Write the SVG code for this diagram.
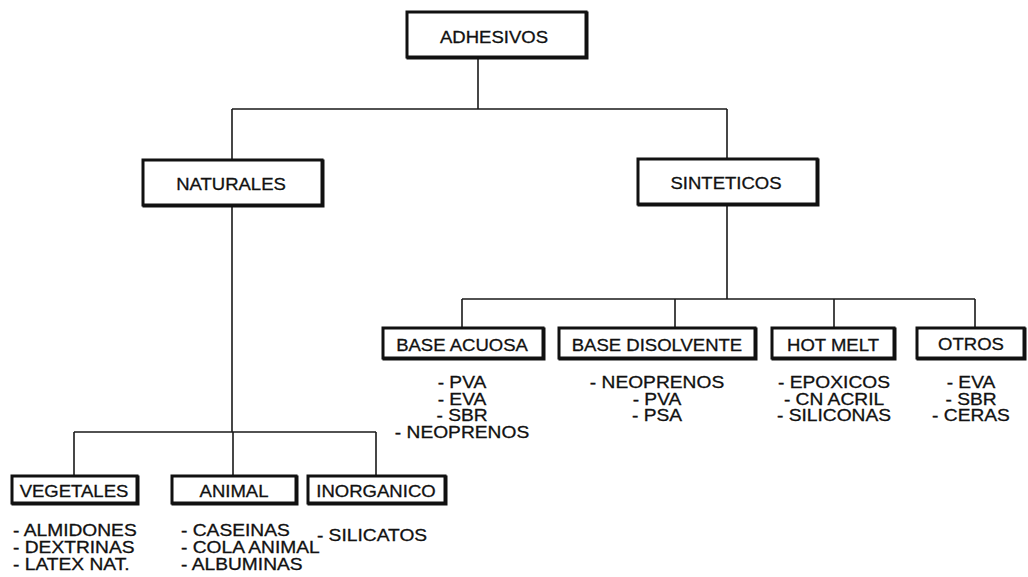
<svg xmlns="http://www.w3.org/2000/svg" width="1028" height="577" viewBox="0 0 1028 577">
  <style>
    .box { fill: #fff; stroke: #111; stroke-width: 3; }
    .shade { fill: none; stroke: #111; stroke-width: 3; }
    .edge { fill: none; stroke: #1a1a1a; stroke-width: 1.6; }
    .lbl { font-family: "Liberation Sans", Arial, sans-serif; font-size: 17px; fill: #111; stroke: #111; stroke-width: 0.3; text-anchor: middle; }
    .item { font-family: "Liberation Sans", Arial, sans-serif; font-size: 17px; fill: #111; stroke: #111; stroke-width: 0.3; }
    .mid { text-anchor: middle; }
  </style>
  <rect width="1028" height="577" fill="#fff"/>

  <!-- tree connectors -->
  <g id="connectors">
    <path class="edge" d="M478 57 V109 M232 109 H727 M232 109 V160 M727 109 V159"/>
    <path class="edge" d="M232 205 V432 M74 432 H376 M74 432 V476 M233 432 V476 M376 432 V476"/>
    <path class="edge" d="M727 204 V299 M462 299 H975 M462 299 V328 M675 299 V328 M834 299 V328 M975 299 V328"/>
  </g>

  <g id="adhesivos">
    <rect class="shade" x="408" y="13" width="179" height="45"/>
    <rect class="box" x="407" y="12" width="179" height="45"/>
    <text class="lbl" transform="translate(494 43) scale(1.09 1)">ADHESIVOS</text>
  </g>

  <g id="naturales">
    <rect class="shade" x="144" y="161" width="179" height="45"/>
    <rect class="box" x="143" y="160" width="179" height="45"/>
    <text class="lbl" transform="translate(231 190) scale(1.09 1)">NATURALES</text>
  </g>

  <g id="sinteticos">
    <rect class="shade" x="639" y="160" width="179" height="45"/>
    <rect class="box" x="638" y="159" width="179" height="45"/>
    <text class="lbl" transform="translate(726 189) scale(1.09 1)">SINTETICOS</text>
  </g>

  <g id="base-acuosa">
    <rect class="shade" x="384" y="329" width="160" height="30"/>
    <rect class="box" x="383" y="328" width="160" height="30"/>
    <text class="lbl" transform="translate(462 351) scale(1.09 1)">BASE ACUOSA</text>
    <text class="item mid" transform="translate(462 388) scale(1.13 1)">- PVA</text>
    <text class="item mid" transform="translate(462 404.5) scale(1.13 1)">- EVA</text>
    <text class="item mid" transform="translate(462 421) scale(1.13 1)">- SBR</text>
    <text class="item mid" transform="translate(462 437.5) scale(1.13 1)">- NEOPRENOS</text>
  </g>

  <g id="base-disolvente">
    <rect class="shade" x="560" y="329" width="196" height="30"/>
    <rect class="box" x="559" y="328" width="196" height="30"/>
    <text class="lbl" transform="translate(657 351) scale(1.09 1)">BASE DISOLVENTE</text>
    <text class="item mid" transform="translate(657 388) scale(1.13 1)">- NEOPRENOS</text>
    <text class="item mid" transform="translate(657 404.5) scale(1.13 1)">- PVA</text>
    <text class="item mid" transform="translate(657 421) scale(1.13 1)">- PSA</text>
  </g>

  <g id="hot-melt">
    <rect class="shade" x="773" y="329" width="122" height="30"/>
    <rect class="box" x="772" y="328" width="122" height="30"/>
    <text class="lbl" transform="translate(833 351) scale(1.09 1)">HOT MELT</text>
    <text class="item mid" transform="translate(834 388) scale(1.13 1)">- EPOXICOS</text>
    <text class="item mid" transform="translate(834 404.5) scale(1.13 1)">- CN ACRIL</text>
    <text class="item mid" transform="translate(834 421) scale(1.13 1)">- SILICONAS</text>
  </g>

  <g id="otros">
    <rect class="shade" x="918" y="329" width="107" height="30"/>
    <rect class="box" x="917" y="328" width="107" height="30"/>
    <text class="lbl" transform="translate(971 350) scale(1.09 1)">OTROS</text>
    <text class="item mid" transform="translate(971 388) scale(1.13 1)">- EVA</text>
    <text class="item mid" transform="translate(971 404.5) scale(1.13 1)">- SBR</text>
    <text class="item mid" transform="translate(971 421) scale(1.13 1)">- CERAS</text>
  </g>

  <g id="vegetales">
    <rect class="shade" x="13" y="477" width="125" height="27"/>
    <rect class="box" x="12" y="476" width="125" height="27"/>
    <text class="lbl" transform="translate(74 497) scale(1.09 1)">VEGETALES</text>
    <text class="item" transform="translate(13 536) scale(1.13 1)">- ALMIDONES</text>
    <text class="item" transform="translate(13 553) scale(1.13 1)">- DEXTRINAS</text>
    <text class="item" transform="translate(13 570) scale(1.13 1)">- LATEX NAT.</text>
  </g>

  <g id="animal">
    <rect class="shade" x="173" y="477" width="124" height="27"/>
    <rect class="box" x="172" y="476" width="124" height="27"/>
    <text class="lbl" transform="translate(234 497) scale(1.09 1)">ANIMAL</text>
    <text class="item" transform="translate(181 536) scale(1.13 1)">- CASEINAS</text>
    <text class="item" transform="translate(181 553) scale(1.13 1)">- COLA ANIMAL</text>
    <text class="item" transform="translate(181 570) scale(1.13 1)">- ALBUMINAS</text>
  </g>

  <g id="inorganico">
    <rect class="shade" x="309" y="477" width="137" height="27"/>
    <rect class="box" x="308" y="476" width="137" height="27"/>
    <text class="lbl" transform="translate(376 497) scale(1.09 1)">INORGANICO</text>
    <text class="item mid" transform="translate(372 541) scale(1.13 1)">- SILICATOS</text>
  </g>
</svg>
